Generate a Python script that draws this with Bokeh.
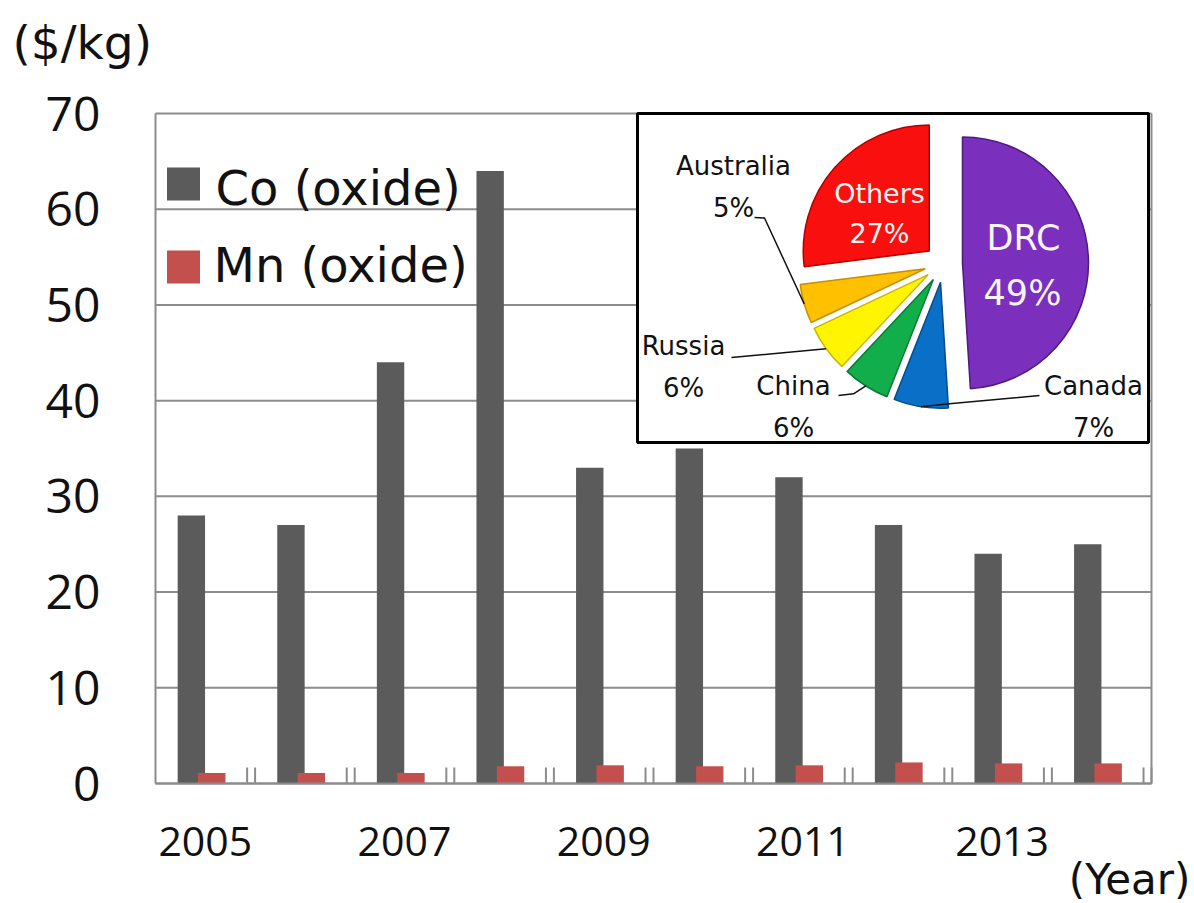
import math

from bokeh.plotting import figure
from bokeh.models import Range1d, FixedTicker, Label, ColumnDataSource, LinearAxis
from bokeh.embed import file_html
from bokeh.resources import INLINE

# ---- data -------------------------------------------------------------
years = [2005, 2006, 2007, 2008, 2009, 2010, 2011, 2012, 2013, 2014]
co_price = [28, 27, 44, 64, 33, 35, 32, 27, 24, 25]          # $/kg
mn_price = [1.1, 1.1, 1.1, 1.8, 1.9, 1.8, 1.9, 2.2, 2.1, 2.1]  # $/kg
y_ticks = [0, 10, 20, 30, 40, 50, 60, 70]
labelled_years = [2005, 2007, 2009, 2011, 2013]

# cobalt production share by country (clockwise from 12 o'clock)
countries = ["DRC", "Canada", "China", "Russia", "Australia", "Others"]
shares = [49, 7, 6, 6, 5, 27]
slice_colors = ["#7A30BC", "#0A6FC6", "#12AE4C", "#FFF500", "#FFC000", "#FA0F0F"]
slice_edges = ["#4E1A80", "#064C8A", "#0A7A33", "#C8B800", "#C88E00", "#B00000"]

# ---- page geometry (pixels) ---------------------------------------------
W, H = 1194, 903
LEFT, RIGHT, TOP, BOTTOM = 155, 1151, 113, 783   # edges of the bar-chart area
Y_MAX = 70
GRID = "#8c8c8c"
DIGITS = "Open Sans"
SANS = "DejaVu Sans"

n = len(years)
px_per_cat = (RIGHT - LEFT) / n
px_per_val = (BOTTOM - TOP) / Y_MAX


def fy(y):
    """screen y (down) -> pixel-range y (up)"""
    return H - y


# the frame spans the whole canvas; axes are pinned at fixed data locations
p = figure(
    width=W, height=H,
    x_range=Range1d(-0.5 - LEFT / px_per_cat, n - 0.5 + (W - RIGHT) / px_per_cat),
    y_range=Range1d(-(H - BOTTOM) / px_per_val, Y_MAX + TOP / px_per_val),
    output_backend="svg", toolbar_location=None,
    x_axis_location=None, y_axis_location=None,
    min_border=0,
)
p.extra_x_ranges = {"px": Range1d(0, W)}
p.extra_y_ranges = {"py": Range1d(0, H)}
p.background_fill_color = "white"
p.border_fill_color = "white"
p.outline_line_color = None
p.grid.grid_line_color = None

idx = list(range(n))

yaxis = LinearAxis(fixed_location=-0.5, bounds=(0, Y_MAX))
yaxis.ticker = FixedTicker(ticks=y_ticks)
yaxis.major_label_text_font = DIGITS
yaxis.major_label_text_font_size = "48px"
yaxis.major_label_text_color = "#111111"
yaxis.major_label_standoff = 49
yaxis.major_tick_line_color = None
yaxis.minor_tick_line_color = None
yaxis.axis_line_color = GRID
yaxis.axis_line_width = 2
p.add_layout(yaxis, "left")

xaxis = LinearAxis(fixed_location=0, bounds=(-0.5, n - 0.5))
xaxis.ticker = FixedTicker(ticks=[i for i, y in zip(idx, years) if y in labelled_years])
xaxis.major_label_overrides = {i: str(y) for i, y in zip(idx, years) if y in labelled_years}
xaxis.major_label_text_font = DIGITS
xaxis.major_label_text_font_size = "41px"
xaxis.major_label_text_color = "#111111"
xaxis.major_label_standoff = 37
xaxis.major_tick_line_color = None
xaxis.minor_tick_line_color = None
xaxis.axis_line_color = GRID
xaxis.axis_line_width = 2
p.add_layout(xaxis, "below")

# horizontal grid lines and right-hand border of the chart area
p.segment(x0=[-0.5] * len(y_ticks), x1=[n - 0.5] * len(y_ticks), y0=y_ticks, y1=y_ticks,
          line_color=GRID, line_width=2)
p.segment(x0=[n - 0.5], x1=[n - 0.5], y0=[0], y1=[Y_MAX], line_color=GRID, line_width=2)

# ---- bars ---------------------------------------------------------------
BAR_W = 0.275
src = ColumnDataSource(dict(
    x_co=[i - 0.14 for i in idx], x_mn=[i + 0.065 for i in idx],
    co=co_price, mn=mn_price))
p.vbar(x="x_co", top="co", width=BAR_W, bottom=0, source=src,
       fill_color="#5B5B5B", line_color=None)
p.vbar(x="x_mn", top="mn", width=BAR_W, bottom=0, source=src,
       fill_color="#C4504E", line_color=None)

# category boundary tick marks (drawn inside, doubled)
bounds = [i + 0.5 for i in idx]
tick_h = 16 / px_per_val
for off in (0.0, -0.08):
    p.segment(x0=[b + off for b in bounds], y0=[0] * len(bounds),
              x1=[b + off for b in bounds], y1=[tick_h] * len(bounds),
              line_color=GRID, line_width=2)

# ---- legend ---------------------------------------------------------------
legend_rows = [("Co (oxide)", "#5B5B5B", 183.5, 187, 215),
               ("Mn (oxide)", "#C4504E", 266.5, 264, 213)]
for text, col, sq_cy, mid_y, tx in legend_rows:
    p.rect(x=[183], y=[fy(sq_cy)], width=33, height=33, fill_color=col,
           line_color=None, x_range_name="px", y_range_name="py")
    p.add_layout(Label(x=tx, y=fy(mid_y), text=text, x_range_name="px", y_range_name="py",
                       text_font=SANS, text_font_size="48px", text_color="#111111",
                       text_align="left", text_baseline="middle"))

# ---- axis captions ----------------------------------------------------------
p.add_layout(Label(x=12, y=fy(42), text="($/kg)", x_range_name="px", y_range_name="py",
                   text_font=SANS, text_font_size="47px", text_color="#111111",
                   text_align="left", text_baseline="middle"))
p.add_layout(Label(x=1190, y=fy(879), text="(Year)", x_range_name="px", y_range_name="py",
                   text_font=SANS, text_font_size="42px", text_color="#111111",
                   text_align="right", text_baseline="middle"))

# ---- inset: production share pie ------------------------------------------
p.quad(left=[637], right=[1148], top=[fy(113)], bottom=[fy(442)],
       fill_color="white", line_color="black", line_width=3,
       x_range_name="px", y_range_name="py")

PCX, PCY = 943, fy(263)
R = 126
EXPLODE = 19
total = float(sum(shares))
cum = 0.0
wx, wy, sa, ea, mids = [], [], [], [], []
for s in shares:
    t1 = cum / total * 2 * math.pi
    t2 = (cum + s) / total * 2 * math.pi
    tm = (t1 + t2) / 2
    cx = PCX + EXPLODE * math.sin(tm)
    cy = PCY + EXPLODE * math.cos(tm)
    wx.append(cx)
    wy.append(cy)
    sa.append(math.pi / 2 - t2)
    ea.append(math.pi / 2 - t1)
    mids.append((cx, cy, tm))
    cum += s

pie = ColumnDataSource(dict(x=wx, y=wy, sa=sa, ea=ea, fill=slice_colors, edge=slice_edges))
p.wedge(x="x", y="y", radius=R, radius_units="screen", start_angle="sa", end_angle="ea",
        direction="anticlock", fill_color="fill", line_color="edge", line_width=1.5,
        source=pie, x_range_name="px", y_range_name="py")

# label layout: (name centre, pct centre, colour, size, leader elbow points)
label_layout = {
    "DRC": ((1023, 237), (1022, 292), "#F4F4F4", "35px", None),
    "Others": ((879, 193), (879, 233), "#F4F4F4", "27px", None),
    "Australia": ((733, 165), (733, 207), "#111111", "26px", [(754, 217), (764, 217.5)]),
    "Russia": ((683, 345), (683, 387), "#111111", "26px", [(731, 357)]),
    "China": ((793, 385), (793, 427), "#111111", "26px", [(838, 395), (853, 393.3)]),
    "Canada": ((1093, 385), (1093, 427), "#111111", "26px", [(1039, 395), (949, 403.3)]),
}
for name, share, (cx, cy, tm) in zip(countries, shares, mids):
    (nx, ny), (qx, qy), col, size, elbow = label_layout[name]
    for txt, lx, ly in ((name, nx, ny), (f"{share}%", qx, qy)):
        p.add_layout(Label(x=lx, y=fy(ly), text=txt, x_range_name="px", y_range_name="py",
                           text_font=SANS, text_font_size=size, text_color=col,
                           text_align="center", text_baseline="middle"))
    if elbow:
        ex = cx + R * math.sin(tm)
        ey = cy + R * math.cos(tm)
        xs = [e[0] for e in elbow] + [ex]
        ys = [fy(e[1]) for e in elbow] + [ey]
        p.line(x=xs, y=ys, line_color="#111111", line_width=1.5,
               x_range_name="px", y_range_name="py")

with open("out.html", "w") as f:
    f.write(file_html(p, INLINE))
